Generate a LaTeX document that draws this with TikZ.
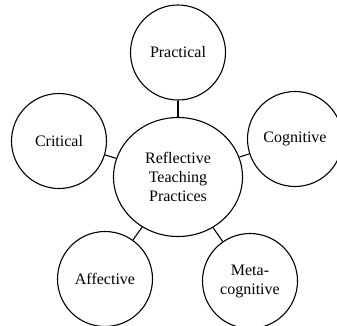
\documentclass[tikz,border=0pt]{standalone}
\usepackage{fontspec}
\setmainfont{Liberation Serif}
\usetikzlibrary{shapes.geometric}
\begin{document}
\begin{tikzpicture}[x=1pt,y=-1pt,
  bubble/.style={draw=black,line width=1.1pt,circle,minimum size=95pt,inner sep=0pt,align=center,font=\fontsize{16}{19}\selectfont},
  hub/.style={draw=black,line width=1.1pt,ellipse,minimum width=129pt,minimum height=119pt,inner sep=0pt,align=center,font=\fontsize{16}{19}\selectfont},
  link/.style={draw=black,line width=1.1pt}]
\useasboundingbox (0,0) rectangle (337,325);
\node[hub] (c) at (178,177) {Reflective\\Teaching\\Practices};
\node[bubble] (p) at (178,52.5) {Practical};
\node[bubble] (cr) at (59,141) {Critical};
\node[bubble] (co) at (295,139) {Cognitive};
\node[bubble] (a) at (105,279) {Affective};
\node[bubble] (m) at (250,281) {Meta-\\cognitive};
\draw[link] (c) -- (p);
\draw[link] (c) -- (cr);
\draw[link] (c) -- (co);
\draw[link] (c) -- (a);
\draw[link] (c) -- (m);
\end{tikzpicture}
\end{document}
